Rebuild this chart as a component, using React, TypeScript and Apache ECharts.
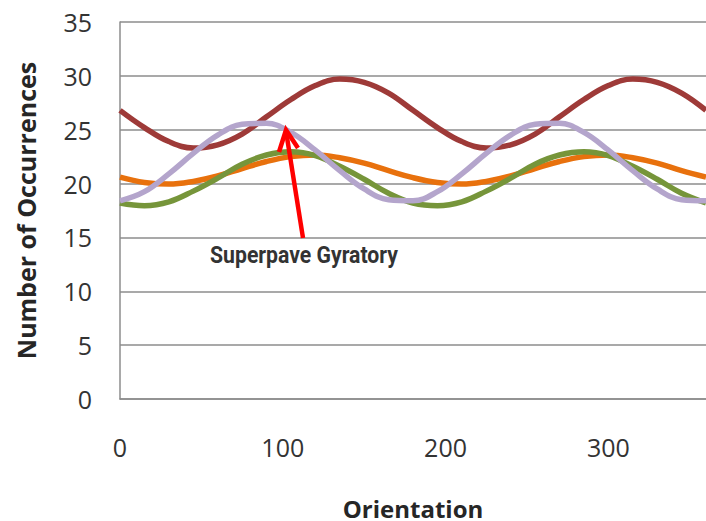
import React, { useEffect, useRef } from "react";
import * as echarts from "echarts";

const orientation = [0, 15, 30, 45, 60, 75, 90, 105, 120, 135, 150, 165, 180, 195, 210, 225, 240, 255, 270, 285, 300, 315, 330, 345, 360];
const seriesRed = [26.8, 25.2, 23.9, 23.3, 23.6, 24.6, 26.2, 27.8, 29.1, 29.7, 29.4, 28.4, 26.8, 25.2, 23.9, 23.3, 23.6, 24.6, 26.2, 27.8, 29.1, 29.7, 29.4, 28.4, 26.8];
const seriesOrange = [20.6, 20.1, 19.95, 20.2, 20.7, 21.4, 22.05, 22.5, 22.65, 22.4, 21.9, 21.2, 20.55, 20.1, 19.95, 20.2, 20.7, 21.4, 22.05, 22.5, 22.65, 22.4, 21.9, 21.2, 20.6];
const seriesGreen = [18.2, 17.95, 18.3, 19.3, 20.5, 21.8, 22.65, 22.95, 22.6, 21.6, 20.4, 19.1, 18.2, 17.95, 18.3, 19.3, 20.5, 21.8, 22.65, 22.95, 22.6, 21.6, 20.4, 19.1, 18.2];
const seriesLavender = [18.4, 19.25, 20.9, 22.8, 24.5, 25.5, 25.6, 24.75, 23.1, 21.2, 19.5, 18.5, 18.4, 19.25, 20.9, 22.8, 24.5, 25.5, 25.6, 24.75, 23.1, 21.2, 19.5, 18.5, 18.4];
const xTicks = [0, 100, 200, 300];
const annotationText = "Superpave Gyratory";

export default function App() {
  const ref = useRef<HTMLDivElement>(null);
  useEffect(() => {
    document.body.style.margin = "0";
    const chart = echarts.init(ref.current!, null, { renderer: "svg" });
    const pair = (ys: number[]) => orientation.map((x, i) => [x, ys[i]]);
    const mk = (name: string, color: string, ys: number[]) => ({
      name,
      type: "line",
      data: pair(ys),
      smooth: 0.4,
      showSymbol: false,
      lineStyle: { color, width: 5.5 },
      itemStyle: { color },
    });
    const annFont = "bold 24px Roboto";
    let annScale = 0.8;
    try {
      const ctx = document.createElement("canvas").getContext("2d")!;
      ctx.font = annFont;
      const w = ctx.measureText(annotationText).width;
      if (w > 0) annScale = 188 / w;
    } catch (e) {}
    chart.setOption({
      animation: false,
      backgroundColor: "#ffffff",
      grid: { left: 120, top: 22, right: 0, bottom: 122, outerBoundsMode: "none", containLabel: false },
      xAxis: {
        type: "value",
        min: 0,
        max: 360,
        interval: 100,
        name: "Orientation",
        nameLocation: "middle",
        nameGap: 97,
        nameTextStyle: { fontFamily: "Open Sans", fontSize: 24, fontWeight: "bold", color: "#262626" },
        axisLine: { show: true, lineStyle: { color: "#8c8c8c", width: 1.5 } },
        axisTick: { show: false },
        splitLine: { show: false },
        axisLabel: {
          showMaxLabel: false,
          margin: 35,
          fontFamily: "Open Sans",
          fontSize: 25,
          color: "#333333",
          formatter: (v: number) => (xTicks.includes(v) ? String(v) : ""),
        },
      },
      yAxis: {
        type: "value",
        min: 0,
        max: 35,
        interval: 5,
        name: "Number of Occurrences",
        nameLocation: "middle",
        nameGap: 82,
        nameTextStyle: { fontFamily: "Open Sans", fontSize: 25, fontWeight: "bold", color: "#262626" },
        axisLine: { show: true, lineStyle: { color: "#8c8c8c", width: 1.5 } },
        axisTick: { show: false },
        splitLine: { show: true, lineStyle: { color: "#8c8c8c", width: 1.5 } },
        axisLabel: { margin: 28, fontFamily: "Open Sans", fontSize: 25, color: "#333333" },
      },
      series: [
        mk("Series A", "#9e3a38", seriesRed),
        mk("Series B", "#e8710d", seriesOrange),
        mk("Series C", "#76953a", seriesGreen),
        mk("Superpave Gyratory", "#b4a5cc", seriesLavender),
      ],
      graphic: [
        {
          type: "line",
          shape: { x1: 303, y1: 238, x2: 286, y2: 131 },
          style: { stroke: "#ff0000", lineWidth: 4.5 },
          z: 100,
        },
        {
          type: "polyline",
          shape: { points: [[279, 152], [286, 130], [298, 148]] },
          style: { stroke: "#ff0000", lineWidth: 4.5, fill: null, lineJoin: "miter" },
          z: 100,
        },
        {
          type: "text",
          x: 304,
          y: 255,
          scaleX: annScale,
          style: {
            text: annotationText,
            fontFamily: "Roboto",
            fontWeight: "bold",
            fontSize: 24,
            fill: "#333333",
            align: "center",
            verticalAlign: "middle",
          },
          z: 100,
        },
      ],
    });
    return () => chart.dispose();
  }, []);
  return <div ref={ref} style={{ position: "absolute", left: 0, top: 0, width: 706, height: 521 }} />;
}
